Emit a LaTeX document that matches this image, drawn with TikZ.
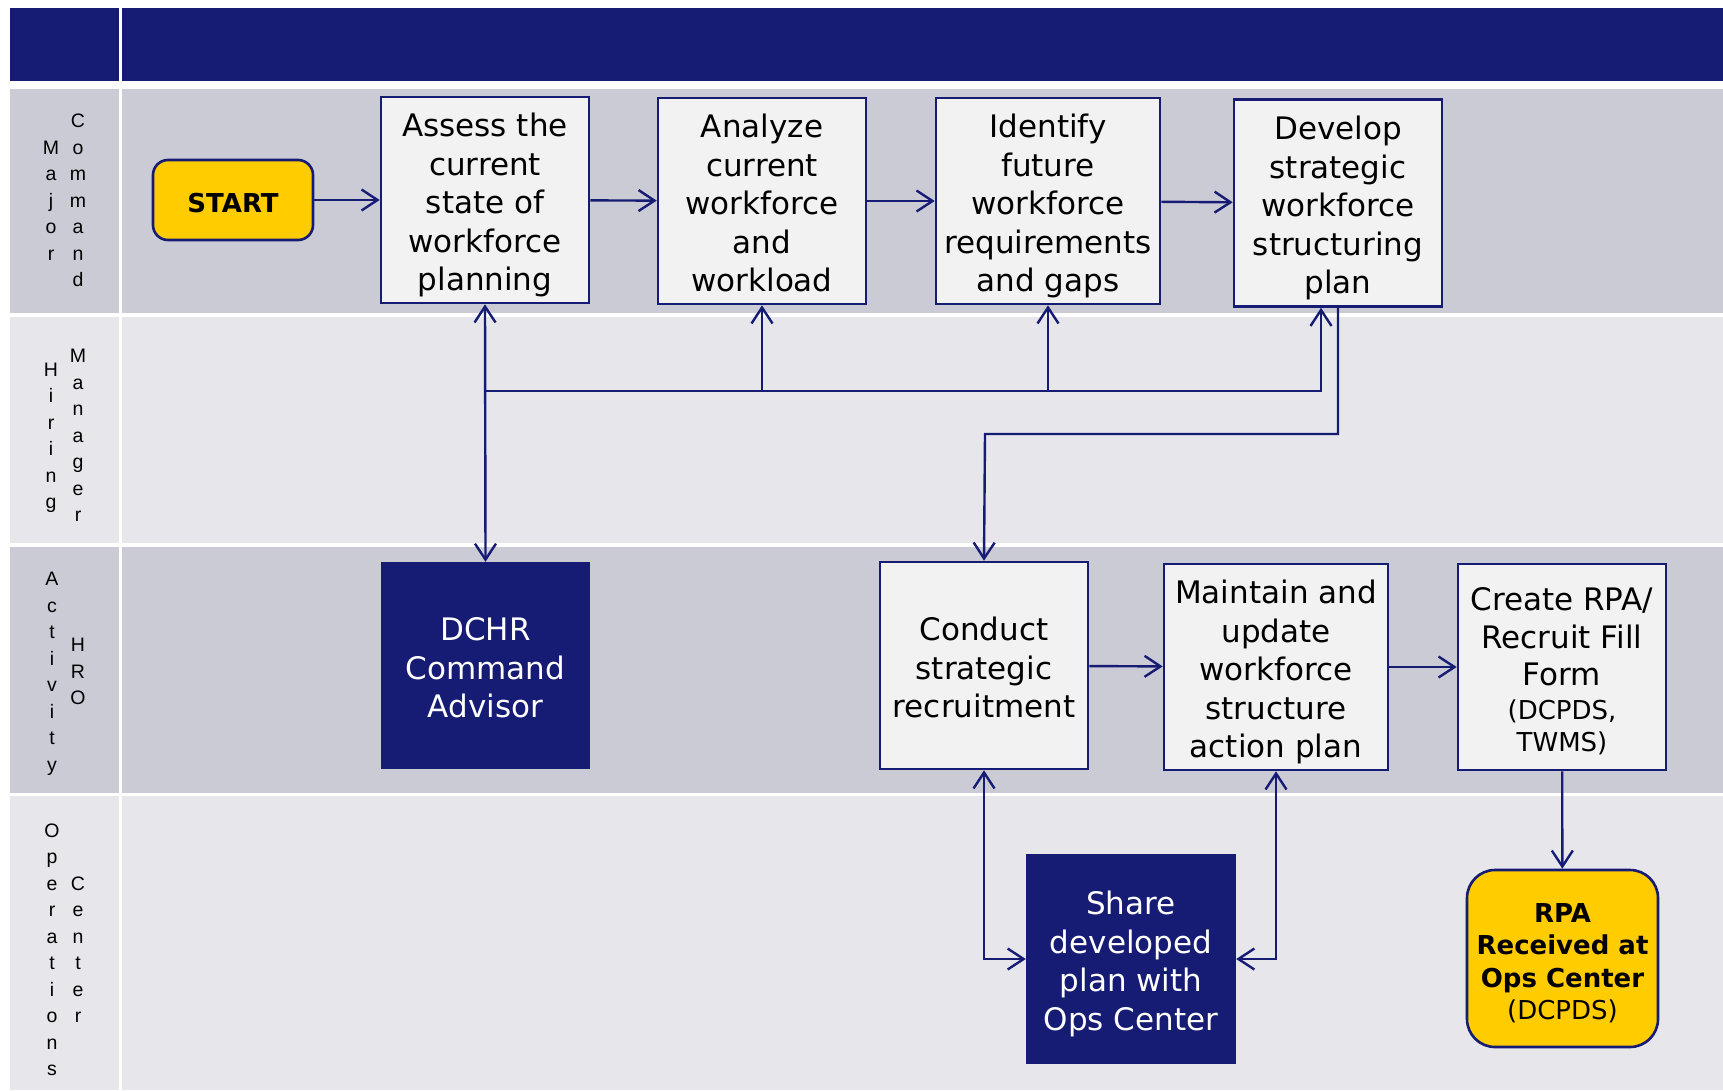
\documentclass[tikz,border=0pt]{standalone}
\usepackage{fontspec}
\setmainfont{DejaVu Sans}
\newfontfamily\lanefont{Liberation Sans}
\usetikzlibrary{arrows.meta}
\definecolor{navy}{HTML}{161C74}
\definecolor{lanedark}{HTML}{CBCBD5}
\definecolor{lanelight}{HTML}{E6E6EB}
\definecolor{boxfill}{HTML}{F2F2F2}
\definecolor{termyellow}{HTML}{FFCC00}
\newcommand{\vstack}[1]{\begin{tabular}{@{}c@{}}#1\end{tabular}}
\newcommand{\bxt}[1]{\raisebox{0pt}[\dimexpr\height+12pt\relax][\depth]{\begin{tabular}{@{}c@{}}#1\end{tabular}}}
\begin{document}
\begin{tikzpicture}[x=1pt,y=-1pt,
  tip/.tip={Straight Barb[length=16pt,width=21pt]},
  flow/.style={draw=navy, line width=2.4pt, -tip},
  flowboth/.style={draw=navy, line width=2.4pt, tip-tip},
  procbox/.style={draw=navy, line width=2.6pt, fill=boxfill, inner sep=0pt, align=center,
    font=\fontsize{31}{38.5}\selectfont},
  darkbox/.style={fill=navy, draw=none, text=white, inner sep=0pt, align=center,
    font=\fontsize{31}{38.5}\selectfont},
  termbox/.style={draw=navy, line width=2.6pt, fill=termyellow, inner sep=0pt, align=center},
  lanelbl/.style={inner sep=0pt, font=\lanefont\fontsize{19.5}{26.5}\selectfont}]
\useasboundingbox (0,0) rectangle (1723,1090);
\fill[white] (0,0) rectangle (1723,1090);
% header
\fill[navy] (10,8) rectangle (119,81);
\fill[navy] (122,8) rectangle (1723,81);
% lanes
\fill[lanedark] (10,89) rectangle (119,313);
\fill[lanedark] (122,89) rectangle (1723,313);
\fill[lanelight] (10,317) rectangle (119,543);
\fill[lanelight] (122,317) rectangle (1723,543);
\fill[lanedark] (10,547) rectangle (119,793);
\fill[lanedark] (122,547) rectangle (1723,793);
\fill[lanelight] (10,796) rectangle (119,1090);
\fill[lanelight] (122,796) rectangle (1723,1090);
% lane labels
\node[lanelbl] (l1a) at (51,202) {\vstack{M\\a\\j\\o\\r}};
\node[lanelbl] (l1b) at (78,202) {\vstack{C\\o\\m\\m\\a\\n\\d}};
\node[lanelbl] (l2a) at (51,437) {\vstack{H\\i\\r\\i\\n\\g}};
\node[lanelbl] (l2b) at (78,437) {\vstack{M\\a\\n\\a\\g\\e\\r}};
\node[lanelbl] (l3a) at (52,673) {\vstack{A\\c\\t\\i\\v\\i\\t\\y}};
\node[lanelbl] (l3b) at (78,673) {\vstack{H\\R\\O}};
\node[lanelbl] (l4a) at (52,951) {\vstack{O\\p\\e\\r\\a\\t\\i\\o\\n\\s}};
\node[lanelbl] (l4b) at (78,951) {\vstack{C\\e\\n\\t\\e\\r}};
% nodes
\node[termbox, rounded corners=15pt, minimum width=160pt, minimum height=80pt,
  font=\bfseries\fontsize{26}{30}\selectfont] (start) at (233,200) {\bxt{START}};
\node[procbox, minimum width=208pt, minimum height=206pt] (assess) at (485,200)
  {\bxt{Assess the\\current\\state of\\workforce\\planning}};
\node[procbox, minimum width=208pt, minimum height=206pt] (analyze) at (762,201)
  {\bxt{Analyze\\current\\workforce\\and\\workload}};
\node[procbox, minimum width=224pt, minimum height=206pt] (identify) at (1048,201)
  {\bxt{Identify\\future\\workforce\\requirements\\and gaps}};
\node[procbox, minimum width=208pt, minimum height=207pt] (develop) at (1338,203)
  {\bxt{Develop\\strategic\\workforce\\structuring\\plan}};
\node[darkbox, minimum width=209pt, minimum height=207pt] (dchr) at (485.5,665.5)
  {\bxt{DCHR\\Command\\Advisor}};
\node[procbox, minimum width=208pt, minimum height=207pt] (conduct) at (984,665.5)
  {\bxt{Conduct\\strategic\\recruitment}};
\node[procbox, minimum width=224pt, minimum height=206pt] (maintain) at (1276,667)
  {\bxt{Maintain and\\update\\workforce\\structure\\action plan}};
\node[procbox, minimum width=208pt, minimum height=206pt] (create) at (1562,667)
  {\bxt{Create RPA/\\Recruit Fill\\[-2pt]Form\\[-4pt]\fontsize{26}{32}\selectfont (DCPDS,\\[-7pt]\fontsize{26}{32}\selectfont TWMS)}};
\node[darkbox, minimum width=210pt, minimum height=210pt] (share) at (1131,959)
  {\bxt{Share\\developed\\plan with\\Ops Center}};
\node[termbox, rounded corners=28pt, minimum width=191pt, minimum height=177pt,
  font=\fontsize{26}{32.4}\selectfont] (rpa) at (1562.5,958.5)
  {\bxt{\textbf{RPA}\\\textbf{Received at}\\\textbf{Ops Center}\\(DCPDS)}};
% coordinates
\coordinate (bus) at (486,391);
\coordinate (bend) at (985,434);
% connectors
\draw[flow] (start) -- (assess);
\draw[flow] (assess) -- (analyze);
\draw[flow] (analyze) -- (identify);
\draw[flow] (identify) -- (develop);
\draw[flowboth] (assess.south) -- (dchr.north);
\draw[flow] (assess.south |- bus) -| ([xshift=-17pt]develop.south);
\draw[flow] (analyze.south |- bus) -- (analyze.south);
\draw[flow] (identify.south |- bus) -- (identify.south);
\draw[flow] (develop.south) |- (bend) -- (conduct.north);
\draw[flow] (conduct) -- (maintain);
\draw[flow] (maintain) -- (create);
\draw[flow] (create) -- (rpa);
\draw[flowboth] (conduct.south) |- (share.west);
\draw[flowboth] (maintain.south) |- (share.east);
\end{tikzpicture}
\end{document}
